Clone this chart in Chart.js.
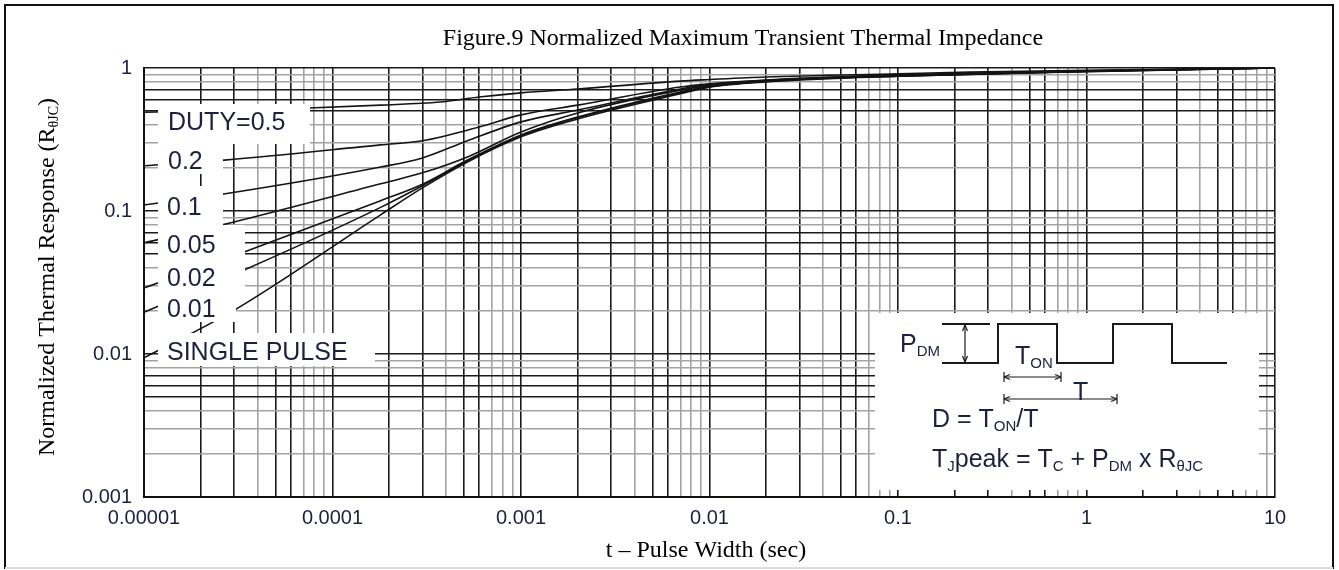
<!DOCTYPE html>
<html>
<head>
<meta charset="utf-8">
<script src="https://cdn.jsdelivr.net/npm/chart.js@4.4.1/dist/chart.umd.min.js"></script>
<style>
  html, body { margin: 0; padding: 0; background: #fff; }
  #wrap { width: 1339px; height: 570px; }
</style>
</head>
<body>
<div id="wrap"><canvas id="myChart" width="1339" height="570"></canvas></div>
<script>
// axis ticks
const xDecades = [1e-5, 1e-4, 1e-3, 1e-2, 1e-1, 1, 10];
const xTickLabels = ['0.00001', '0.0001', '0.001', '0.01', '0.1', '1', '10'];
const yDecades = [0.001, 0.01, 0.1, 1];
const yTickLabels = ['0.001', '0.01', '0.1', '1'];

// pulse width t (sec) / normalized response, one pair per duty cycle
let t05 = [1e-5, 7.5e-5, 1.8e-4, 3.7e-4, 6e-4, 1e-3, 2e-3, 7e-3, 0.01, 0.02, 0.1, 0.24, 1, 10];
let z05 = [0.49, 0.525, 0.55, 0.578, 0.627, 0.67, 0.713, 0.81, 0.83, 0.865, 0.91, 0.935, 0.965, 1.0];

let t02 = [1e-5, 2.67e-5, 1.8e-4, 3e-4, 6e-4, 1e-3, 2e-3, 7e-3, 0.01, 0.02, 0.1, 1, 10];
let z02 = [0.207, 0.227, 0.29, 0.31, 0.387, 0.47, 0.55, 0.736, 0.775, 0.825, 0.895, 0.955, 1.0];

let t01 = [1e-5, 2.6e-5, 1.8e-4, 3e-4, 5.2e-4, 1e-3, 2e-3, 7e-3, 0.01, 0.02, 0.1, 1, 10];
let z01 = [0.11, 0.131, 0.203, 0.235, 0.31, 0.42, 0.508, 0.713, 0.765, 0.82, 0.89, 0.952, 1.0];

let t005 = [1e-5, 2.6e-5, 1.8e-4, 3e-4, 5.2e-4, 1e-3, 2e-3, 7e-3, 0.01, 0.02, 0.1, 1, 10];
let z005 = [0.06, 0.08, 0.155, 0.185, 0.239, 0.357, 0.485, 0.70, 0.755, 0.815, 0.885, 0.95, 1.0];

let t002 = [1e-5, 3.4e-5, 1.8e-4, 3e-4, 5.2e-4, 1e-3, 2e-3, 7e-3, 0.01, 0.02, 0.1, 1, 10];
let z002 = [0.029, 0.0517, 0.118, 0.154, 0.227, 0.34, 0.454, 0.68, 0.745, 0.81, 0.88, 0.948, 1.0];

let t001 = [1e-5, 3.4e-5, 1.8e-4, 3e-4, 5.2e-4, 1e-3, 2e-3, 7e-3, 0.01, 0.02, 0.1, 1, 10];
let z001 = [0.0196, 0.0387, 0.106, 0.15, 0.224, 0.335, 0.45, 0.67, 0.74, 0.805, 0.878, 0.946, 1.0];

let tSingle = [1e-5, 3.08e-5, 1.8e-4, 3e-4, 5.2e-4, 1e-3, 2e-3, 7e-3, 0.01, 0.02, 0.1, 1, 10];
let zSingle = [0.0094, 0.0206, 0.094, 0.145, 0.22, 0.33, 0.44, 0.66, 0.735, 0.80, 0.875, 0.944, 1.0];

const curveLabels = ['DUTY=0.5', '0.2', '0.1', '0.05', '0.02', '0.01', 'SINGLE PULSE'];
const curveT = [t05, t02, t01, t005, t002, t001, tSingle];
const curveZ = [z05, z02, z01, z005, z002, z001, zSingle];

const inkColor = '#1d2140';
const sans = "'Liberation Sans', Arial, sans-serif";
const serif = "'Liberation Serif', 'Times New Roman', serif";

// 1..9 x 10^e grid positions
function gridValues(e0, e1) {
    let vals = [];
    for (let e = e0; e < e1; e++) {
        for (let s = 1; s <= 9; s++) vals.push(parseFloat(s + 'e' + e));
    }
    vals.push(parseFloat('1e' + e1));
    return vals;
}

function significand(v) {
    let e = Math.floor(Math.log10(v) + 1e-9);
    return Math.round(v / Math.pow(10, e));
}

function decadeLabel(v, decades, labels) {
    for (let i = 0; i < decades.length; i++) {
        if (Math.abs(Math.log10(v) - Math.log10(decades[i])) < 1e-6) return labels[i];
    }
    return '';
}

const xDark = [1, 2, 3, 5, 6];
const yDark = [1, 5, 6, 7];

function gridColor(tick, dark) {
    if (!tick) return '#111';
    return dark.includes(significand(tick.value)) ? '#1a1a1a' : '#a3a3a3';
}

function drawRich(ctx, parts, x, y, size, family, align) {
    let subSize = Math.round(size * 0.6);
    let widths = parts.map(([txt, sub]) => {
        ctx.font = (sub ? subSize : size) + 'px ' + family;
        return ctx.measureText(txt).width;
    });
    let total = widths.reduce((a, b) => a + b, 0);
    let cx = align === 'center' ? x - total / 2 : x;
    ctx.textAlign = 'left';
    ctx.textBaseline = 'alphabetic';
    parts.forEach(([txt, sub], i) => {
        ctx.font = (sub ? subSize : size) + 'px ' + family;
        ctx.fillText(txt, cx, sub ? y + size * 0.16 : y);
        cx += widths[i];
    });
}

function arrow(ctx, x1, y1, x2, y2, bars) {
    let a = Math.atan2(y2 - y1, x2 - x1);
    ctx.beginPath();
    ctx.moveTo(x1, y1);
    ctx.lineTo(x2, y2);
    ctx.stroke();
    [[x1, y1, a + Math.PI], [x2, y2, a]].forEach(([px, py, ang]) => {
        ctx.beginPath();
        ctx.moveTo(px, py);
        ctx.lineTo(px - 6 * Math.cos(ang) + 2.5 * Math.sin(ang), py - 6 * Math.sin(ang) - 2.5 * Math.cos(ang));
        ctx.moveTo(px, py);
        ctx.lineTo(px - 6 * Math.cos(ang) - 2.5 * Math.sin(ang), py - 6 * Math.sin(ang) + 2.5 * Math.cos(ang));
        ctx.stroke();
        if (bars) {
            ctx.beginPath();
            ctx.moveTo(px, py - 5);
            ctx.lineTo(px, py + 5);
            ctx.stroke();
        }
    });
}

const decor = {
    id: 'decor',
    beforeDraw(chart) {
        let ctx = chart.ctx;
        ctx.save();
        ctx.fillStyle = '#fff';
        ctx.fillRect(0, 0, chart.width, chart.height);
        ctx.strokeStyle = '#111';
        ctx.lineWidth = 2;
        ctx.beginPath();
        ctx.moveTo(5, 569);
        ctx.lineTo(5, 5);
        ctx.lineTo(1333, 5);
        ctx.lineTo(1333, 569);
        ctx.stroke();
        ctx.strokeStyle = '#dcdcdc';
        ctx.beginPath();
        ctx.moveTo(5, 568);
        ctx.lineTo(1333, 568);
        ctx.stroke();
        ctx.restore();
    },
    afterDatasetsDraw(chart) {
        let ctx = chart.ctx;
        ctx.save();
        // white label patches over the grid
        ctx.fillStyle = '#fff';
        let patches = [
            [158, 104, 152, 40], [158, 144, 65, 30], [158, 186, 65, 39],
            [158, 225, 87, 70], [158, 295, 78, 27], [158, 333, 217, 33],
            [875, 313, 384, 177]
        ];
        patches.forEach(p => ctx.fillRect(p[0], p[1], p[2], p[3]));

        ctx.fillStyle = inkColor;
        ctx.font = '25px ' + sans;
        ctx.textAlign = 'left';
        ctx.textBaseline = 'alphabetic';
        let labelPos = [[168, 130], [168, 169], [167, 215], [167, 253], [167, 286], [167, 317], [167, 360]];
        curveLabels.forEach((txt, i) => ctx.fillText(txt, labelPos[i][0], labelPos[i][1]));

        // duty cycle sketch
        ctx.strokeStyle = '#1a1a1a';
        ctx.lineWidth = 2;
        ctx.beginPath();
        ctx.moveTo(942, 324); ctx.lineTo(990, 324);
        ctx.moveTo(942, 363); ctx.lineTo(998, 363); ctx.lineTo(998, 324);
        ctx.lineTo(1057, 324); ctx.lineTo(1057, 363); ctx.lineTo(1113, 363);
        ctx.lineTo(1113, 324); ctx.lineTo(1172, 324); ctx.lineTo(1172, 363);
        ctx.lineTo(1227, 363);
        ctx.stroke();
        ctx.lineWidth = 1.2;
        arrow(ctx, 965, 325, 965, 362, false);
        arrow(ctx, 1004, 377, 1061, 377, true);
        arrow(ctx, 1004, 399, 1117, 399, true);

        drawRich(ctx, [['P', 0], ['DM', 1]], 900, 352, 25, sans);
        drawRich(ctx, [['T', 0], ['ON', 1]], 1015, 364, 25, sans);
        drawRich(ctx, [['T', 0]], 1073, 400, 25, sans);
        drawRich(ctx, [['D = T', 0], ['ON', 1], ['/T', 0]], 932, 427, 25, sans);
        drawRich(ctx, [['T', 0], ['J', 1], ['peak = T', 0], ['C', 1], [' + P', 0], ['DM', 1], [' x R', 0], ['\u03b8JC', 1]], 932, 467, 25, sans);
        ctx.restore();
    },
    afterDraw(chart) {
        let ctx = chart.ctx;
        ctx.save();
        ctx.fillStyle = '#000';
        ctx.font = '24px ' + serif;
        ctx.textAlign = 'center';
        ctx.textBaseline = 'alphabetic';
        ctx.fillText('Figure.9 Normalized Maximum Transient Thermal Impedance', 743, 45);
        ctx.fillText('t \u2013 Pulse Width (sec)', 706, 557);
        ctx.translate(54, 277);
        ctx.rotate(-Math.PI / 2);
        drawRich(ctx, [['Normalized Thermal Response (R', 0], ['\u03b8JC', 1], [')', 0]], 0, 0, 24, serif, 'center');
        ctx.restore();
    }
};

let datasets = curveLabels.map((name, i) => ({
    label: name,
    data: curveT[i].map((t, j) => ({ x: t, y: curveZ[i][j] })),
    borderColor: '#141414',
    borderWidth: 1.6,
    pointRadius: 0,
    fill: false,
    cubicInterpolationMode: 'monotone'
}));

let ctx = document.getElementById('myChart').getContext('2d');
let chartOne = new Chart(ctx, {
    type: 'line',
    data: { datasets: datasets },
    options: {
        responsive: false,
        animation: false,
        events: [],
        layout: { padding: { top: 68, right: 64, left: 0, bottom: 0 } },
        plugins: {
            legend: { display: false },
            tooltip: { enabled: false },
            title: { display: false }
        },
        scales: {
            x: {
                type: 'logarithmic',
                min: 1e-5,
                max: 10,
                afterBuildTicks: s => { s.ticks = gridValues(-5, 1).map(v => ({ value: v })); },
                afterFit: s => { s.height = 73; },
                grid: {
                    color: c => gridColor(c.tick, xDark),
                    lineWidth: 1.6,
                    drawTicks: false
                },
                border: { color: '#111', width: 2 },
                ticks: {
                    autoSkip: false,
                    maxRotation: 0,
                    padding: 9,
                    color: inkColor,
                    font: { family: sans, size: 20 },
                    callback: v => decadeLabel(v, xDecades, xTickLabels)
                }
            },
            y: {
                type: 'logarithmic',
                min: 0.001,
                max: 1,
                afterBuildTicks: s => { s.ticks = gridValues(-3, 0).map(v => ({ value: v })); },
                afterFit: s => { s.width = 144; },
                grid: {
                    color: c => gridColor(c.tick, yDark),
                    lineWidth: 1.6,
                    drawTicks: false
                },
                border: { color: '#111', width: 2 },
                ticks: {
                    autoSkip: false,
                    padding: 12,
                    color: inkColor,
                    font: { family: sans, size: 20 },
                    callback: v => decadeLabel(v, yDecades, yTickLabels)
                }
            }
        }
    },
    plugins: [decor]
});
</script>
</body>
</html>
